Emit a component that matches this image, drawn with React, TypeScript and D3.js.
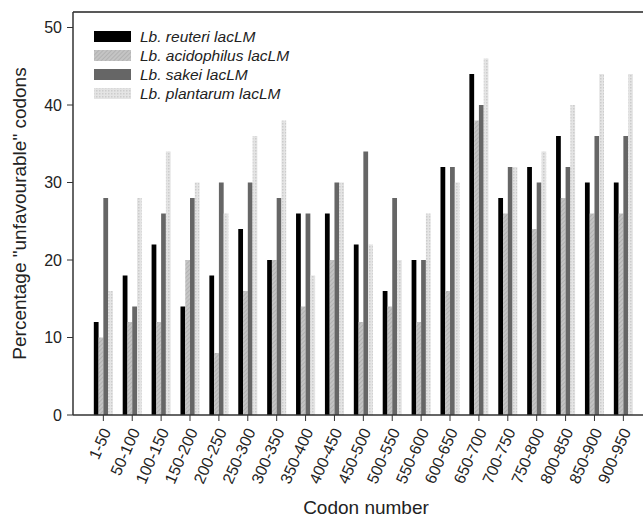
import React from "react";
import * as d3 from "d3";

const categories = ["1-50","50-100","100-150","150-200","200-250","250-300","300-350","350-400","400-450","450-500","500-550","550-600","600-650","650-700","700-750","750-800","800-850","850-900","900-950"];
const seriesNames = ["Lb. reuteri lacLM","Lb. acidophilus lacLM","Lb. sakei lacLM","Lb. plantarum lacLM"];
const reuteri =     [12,18,22,14,18,24,20,26,26,22,16,20,32,44,28,32,36,30,30];
const acidophilus = [10,12,12,20, 8,16,20,14,20,12,14,12,16,38,26,24,28,26,26];
const sakei =       [28,14,26,28,30,30,28,26,30,34,28,20,32,40,32,30,32,36,36];
const plantarum =   [16,28,34,30,26,36,38,18,30,22,20,26,30,46,32,34,40,44,44];
const yTicks = [0,10,20,30,40,50];

const W = 643, H = 518;
const left = 73, top = 12, bottom = 415;

export default function App() {
  const series = [reuteri, acidophilus, sakei, plantarum];
  const fills = ["#000000", "url(#hatchA)", "#666666", "url(#dotP)"];
  const y = d3.scaleLinear().domain([0, 52]).range([bottom, top]);
  const x = d3.scaleBand<string>().domain(categories).range([88.9, 88.9 + 28.89 * 19]).paddingInner(0.34).paddingOuter(0.17);
  const xs = d3.scaleBand<number>().domain([0,1,2,3]).range([0, x.bandwidth()]);
  const font = "'Liberation Sans', Arial, sans-serif";
  return (
    <svg width={W} height={H} style={{ position: "absolute", left: 0, top: 0 }} fontFamily={font}>
      <defs>
        <pattern id="hatchA" width="3" height="3" patternUnits="userSpaceOnUse" patternTransform="rotate(45)">
          <rect width="3" height="3" fill="#c4c4c4" />
          <line x1="0" y1="0" x2="0" y2="3" stroke="#a6a6a6" strokeWidth="1.2" />
        </pattern>
        <pattern id="dotP" width="3" height="3" patternUnits="userSpaceOnUse">
          <rect width="3" height="3" fill="#e4e4e4" />
          <rect width="1.5" height="1.5" fill="#cccccc" />
        </pattern>
      </defs>
      <rect x={0} y={0} width={W} height={H} fill="#fff" />
      {categories.map((c, i) => (
        <g key={c}>
          {series.map((s, k) => (
            <rect key={k} x={(x(c) as number) + (xs(k) as number)} y={y(s[i])} width={xs.bandwidth()} height={bottom - y(s[i])} fill={fills[k]} />
          ))}
        </g>
      ))}
      {/* frame */}
      <line x1={left} x2={W} y1={top} y2={top} stroke="#222" strokeWidth={1.5} />
      <line x1={left} x2={left} y1={top} y2={bottom} stroke="#333" strokeWidth={1.5} />
      <line x1={left} x2={W} y1={bottom} y2={bottom} stroke="#333" strokeWidth={1.5} />
      {/* y ticks */}
      {yTicks.map(t => (
        <g key={t}>
          <line x1={left - 6} x2={left} y1={y(t)} y2={y(t)} stroke="#333" strokeWidth={1} />
          <text x={left - 11} y={y(t)} dy="0.35em" textAnchor="end" fontSize={16} fill="#222">{t}</text>
        </g>
      ))}
      {/* x ticks */}
      {categories.map(c => {
        const cx = (x(c) as number) + x.bandwidth() / 2;
        return (
          <g key={c}>
            <line x1={cx} x2={cx} y1={bottom} y2={bottom + 6} stroke="#333" strokeWidth={1} />
            <text transform={`translate(${cx + 3},${bottom + 14}) rotate(-66)`} textAnchor="end" dy="0.35em" fontSize={16} fill="#222">{c}</text>
          </g>
        );
      })}
      <text x={366} y={514} textAnchor="middle" fontSize={19} fill="#222">Codon number</text>
      <text transform={`translate(26,${(top + bottom) / 2}) rotate(-90)`} textAnchor="middle" fontSize={19} fill="#222">Percentage "unfavourable" codons</text>
      {/* legend */}
      {seriesNames.map((n, k) => (
        <g key={n}>
          <rect x={94} y={31 + k * 19} width={37} height={11} fill={fills[k]} />
          <text x={140} y={37 + k * 19} dy="0.35em" fontSize={15.5} fontStyle="italic" fill="#222">{n}</text>
        </g>
      ))}
    </svg>
  );
}
